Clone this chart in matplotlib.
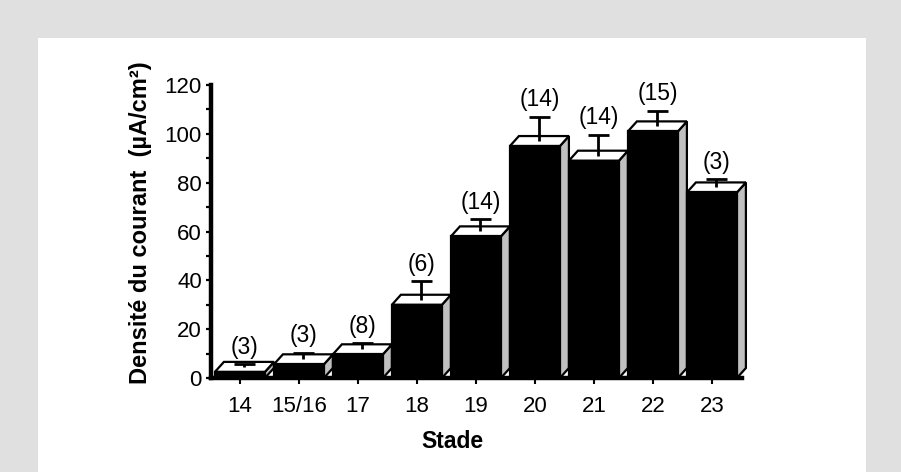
import matplotlib
matplotlib.use("Agg")
import matplotlib.pyplot as plt
from matplotlib.patches import Polygon, Rectangle
import numpy as np

# ---- data ----
stades = ["14", "15/16", "17", "18", "19", "20", "21", "22", "23"]
densite = [2.5, 5.6, 9.7, 30, 58, 95, 89, 101, 76]
erreur_haut = [5.6, 10.4, 14.3, 39.7, 65, 107, 99.6, 109.4, 81.4]   # top of error bar
n_cells = ["(3)", "(3)", "(8)", "(6)", "(14)", "(14)", "(14)", "(15)", "(3)"]
yticks = [0, 20, 40, 60, 80, 100, 120]

plt.rcParams['font.family'] = ['Liberation Sans', 'DejaVu Sans']

W, H = 901, 472
fig = plt.figure(figsize=(W / 100, H / 100), dpi=100)
fig.patch.set_facecolor('#e0e0e0')
fig.patches.append(Rectangle((38 / W, 0), (866 - 38) / W, (H - 38) / H,
                             transform=fig.transFigure, facecolor='white',
                             edgecolor='none', zorder=-1))

ax_l, ax_r, ax_t, ax_b = 211, 742, 85, 378
ax = fig.add_axes([ax_l / W, 1 - ax_b / H, (ax_r - ax_l) / W, (ax_b - ax_t) / H])
ax.set_facecolor('none')
ax.set_zorder(2)

x = np.arange(len(stades))
ax.set_xlim(-0.49, len(stades) - 0.49)
ax.set_ylim(0, 120)

px_x = (ax_r - ax_l) / (len(stades))      # pixels per x unit
px_y = (ax_b - ax_t) / 120.0              # pixels per y unit
bw = 50 / px_x
dx = 9 / px_x
dy = 10 / px_y
lw = 1.6

for xi, v, top, lab in zip(x, densite, erreur_haut, n_cells):
    x0, x1 = xi - bw / 2, xi + bw / 2
    # side face
    ax.add_patch(Polygon([(x1, 0), (x1 + dx, dy), (x1 + dx, v + dy), (x1, v)],
                         closed=True, facecolor='#c0c0c0', edgecolor='black',
                         lw=lw, zorder=2, clip_on=False, joinstyle='miter'))
    # top face
    ax.add_patch(Polygon([(x0, v), (x0 + dx, v + dy), (x1 + dx, v + dy), (x1, v)],
                         closed=True, facecolor='white', edgecolor='black',
                         lw=lw, zorder=2, clip_on=False, joinstyle='miter'))
    # front face
    ax.add_patch(Rectangle((x0, 0), bw, v, facecolor='black', edgecolor='black',
                           lw=lw, zorder=3, clip_on=False))
    # error bar
    ex = xi + dx / 2
    cw = 21 / px_x
    ax.plot([ex, ex], [v + dy / 2, top], color='black', lw=2.0, zorder=4,
            solid_capstyle='butt', clip_on=False)
    ax.plot([ex - cw / 2, ex + cw / 2], [top, top], color='black', lw=2.0,
            zorder=4, solid_capstyle='butt', clip_on=False)
    ax.annotate(lab, (ex, top), xytext=(0, 4), textcoords='offset points',
                ha='center', va='bottom', fontsize=16.5)

for s in ['top', 'right']:
    ax.spines[s].set_visible(False)
for s in ['left', 'bottom']:
    ax.spines[s].set_linewidth(3.2)
    ax.spines[s].set_zorder(5)
ax.spines['bottom'].set_capstyle('projecting')

ax.set_xticks(x)
ax.set_xticklabels(stades, fontsize=16)
ax.set_yticks(yticks)
ax.set_yticklabels([str(t) for t in yticks], fontsize=16)
ax.set_yticks(np.arange(10, 120, 20), minor=True)
ax.tick_params(axis='x', direction='out', length=4, width=1.5, pad=9)
ax.tick_params(axis='y', which='both', direction='out', length=3.5, width=1.6, pad=3)

fig.text(141 / W, 1 - 223 / H, "Densité du courant  (µA/cm²)", rotation=90,
         ha='center', va='center', fontsize=17, fontweight='bold')
fig.text(452 / W, 1 - 441 / H, "Stade", ha='center', va='center',
         fontsize=16.5, fontweight='bold')

fig.savefig("out.png", dpi=100, facecolor=fig.get_facecolor())
